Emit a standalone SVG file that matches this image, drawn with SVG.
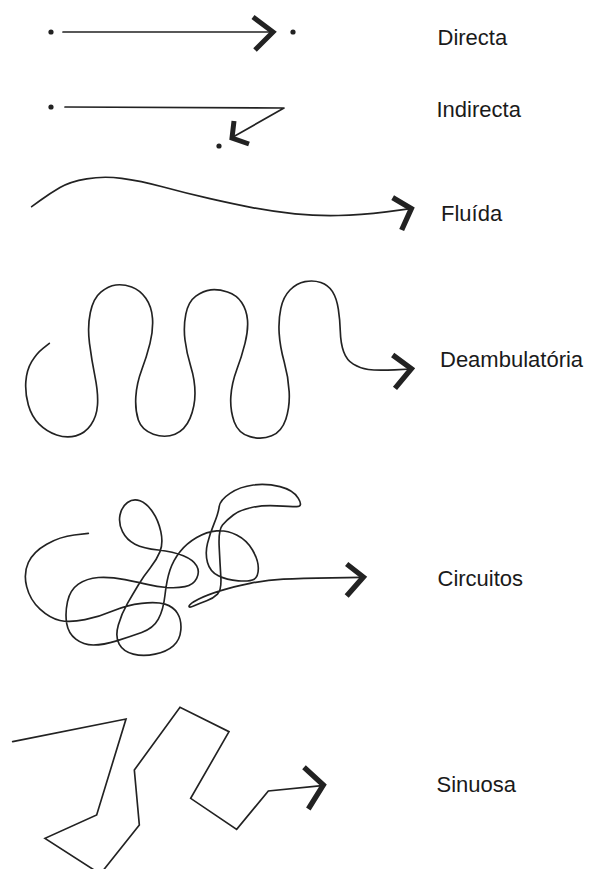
<svg xmlns="http://www.w3.org/2000/svg" width="592" height="869" viewBox="0 0 592 869">
<style>
.ln{fill:none;stroke:#222;stroke-width:1.7;stroke-linecap:round;stroke-linejoin:round}
.lz{fill:none;stroke:#222;stroke-width:5;stroke-linecap:round;stroke-linejoin:round}
.hd{fill:none;stroke:#222;stroke-width:5;stroke-linejoin:miter;stroke-linecap:butt}
.hz{fill:none;stroke:#222;stroke-width:16;stroke-linejoin:miter;stroke-linecap:butt}
.dot{fill:#222}
.lbl{font-family:"Liberation Sans",Arial,sans-serif;font-size:22px;fill:#1a1a1a}
</style>
<rect width="592" height="869" fill="#fff"/>
<g id="directa">
<circle class="dot" cx="51" cy="32" r="2.6"/>
<path class="ln" d="M63,32 L272,32"/>
<path class="hd" d="M253,17 L273,32 L255,50"/>
<circle class="dot" cx="293" cy="32" r="2.6"/>
<text class="lbl" x="437.5" y="45">Directa</text>
</g>
<g id="indirecta">
<circle class="dot" cx="51" cy="107" r="2.6"/>
<path class="ln" d="M65,107 L284,108 L233,137"/>
<path class="hd" d="M234,121 L232,138 L249,144"/>
<circle class="dot" cx="219" cy="146" r="2.6"/>
<text class="lbl" x="436.5" y="117">Indirecta</text>
</g>
<g id="fluida">
<g transform="translate(0,160) scale(0.33333)">
<path class="lz" d="M95,140 L122.5,120 Q150,100 180,82.5 Q210,65 260,56.5 Q310,48 365,55 Q420,62 490,81 Q560,100 630,116 Q700,132 760,143.5 Q820,155 885,161.5 Q950,168 1015,166.5 Q1080,165 1159,155.5 L1232,146"/>
<path class="hz" d="M1178,113 L1234,146 L1205,210"/>
</g>
<text class="lbl" x="441" y="221">Fluída</text>
</g>
<g id="deambulatoria">
<g transform="translate(0,270) scale(0.33333)">
<path class="lz" d="M148,220 L129,235 Q110,250 95,275 Q80,300 77.5,335 Q75,370 85,405 Q95,440 117.5,462.5 Q140,485 170,495 Q200,505 227.5,497.5 Q255,490 272.5,465 Q290,440 292.5,405 Q295,370 285,320 Q275,270 268.5,220 Q262,170 271,127.5 Q280,85 302.5,66.5 Q325,48 347.5,45 Q370,42 395,51 Q420,60 437.5,85 Q455,110 457.5,145 Q460,180 450,220 Q440,260 425,300 Q410,340 407.5,380 Q405,420 415,450 Q425,480 460,492.5 Q495,505 525,492.5 Q555,480 570,445 Q585,410 585,370 Q585,330 572.5,290 Q560,250 555,210 Q550,170 557.5,132.5 Q565,95 587.5,78.5 Q610,62 632.5,59.5 Q655,57 682.5,66 Q710,75 725,97.5 Q740,120 742.5,150 Q745,180 735,220 Q725,260 710,300 Q695,340 692.5,380 Q690,420 702.5,455 Q715,490 750,500 Q785,510 815,497.5 Q845,485 857.5,447.5 Q870,410 867.5,365 Q865,320 852.5,275 Q840,230 837.5,190 Q835,150 842.5,115 Q850,80 870,60 Q890,40 915,35 Q940,30 962.5,37.5 Q985,45 997.5,65 Q1010,85 1015,117.5 Q1020,150 1021,185 Q1022,220 1031,245 Q1040,270 1060,282.5 Q1080,295 1105,298.5 Q1130,302 1184,299.5 L1232,297"/>
<path class="hz" d="M1178,255 L1234,296 L1185,355"/>
</g>
<text class="lbl" x="440" y="367">Deambulatória</text>
</g>
<g id="circuitos">
<g transform="translate(0,480) scale(0.33333)">
<path class="lz" d="M265,160 L222.5,165 Q180,170 140,192.5 Q100,215 85,247.5 Q70,280 80,320 Q90,360 120,387.5 Q150,415 180,421.5 Q210,428 255,419 Q300,410 340,392.5 Q380,375 425,370 Q470,365 495,372.5 Q520,380 532.5,400 Q545,420 542.5,450 Q540,480 520,497.5 Q500,515 465,522.5 Q430,530 400,522.5 Q370,515 357.5,492.5 Q345,470 355,435 Q365,400 382.5,370 Q400,340 415,315 Q430,290 450,265 Q470,240 480,215 Q490,190 482.5,155 Q475,120 457.5,95 Q440,70 420,62.5 Q400,55 382.5,67.5 Q365,80 360,105 Q355,130 367.5,155 Q380,180 405,192.5 Q430,205 475,210 Q520,215 550,227.5 Q580,240 590,257.5 Q600,275 590,295 Q580,315 555,320 Q530,325 500,322.5 Q470,320 445,314 Q420,308 375,299 Q330,290 295,292.5 Q260,295 235,312.5 Q210,330 202.5,365 Q195,400 200,430 Q205,460 227.5,477.5 Q250,495 280,495 Q310,495 350,482.5 Q390,470 425,457.5 Q460,445 475,417.5 Q490,390 495,345 Q500,300 510,270 Q520,240 540,215 Q560,190 590,172.5 Q620,155 650,152.5 Q680,150 710,165 Q740,180 757.5,210 Q775,240 775,265 Q775,290 762.5,297.5 Q750,305 715,302.5 Q680,300 655,287.5 Q630,275 622.5,247.5 Q615,220 622.5,190 Q630,160 642.5,130 Q655,100 657.5,80 Q660,60 690,40 Q720,20 760,15 Q800,10 840,20 Q880,30 895,55 Q910,80 890,80 Q870,80 830,77.5 Q790,75 755,82.5 Q720,90 700,105 Q680,120 667.5,135 Q655,150 657.5,200 Q660,250 662.5,290 Q665,330 652.5,342.5 Q640,355 620,362.5 Q600,370 582.5,377.5 Q565,385 567.5,377.5 Q570,370 595,357.5 Q620,345 660,332.5 Q700,320 750,310 Q800,300 850,297.5 Q900,295 995,293.5 L1085,292"/>
<path class="hz" d="M1040,252 L1090,291 L1040,348"/>
</g>
<text class="lbl" x="437.5" y="586">Circuitos</text>
</g>
<g id="sinuosa">
<g transform="translate(0,690) scale(0.33333)">
<path class="lz" style="stroke-linejoin:miter" d="M38,155 L378,87 L290,375 L135,445 L301,552 L418,405 L403,240 L540,52 L687,125 L572,325 L710,418 L805,303 L966,287"/>
<path class="hz" d="M912,232 L970,285 L925,357"/>
</g>
<text class="lbl" x="436.5" y="792">Sinuosa</text>
</g>
</svg>
